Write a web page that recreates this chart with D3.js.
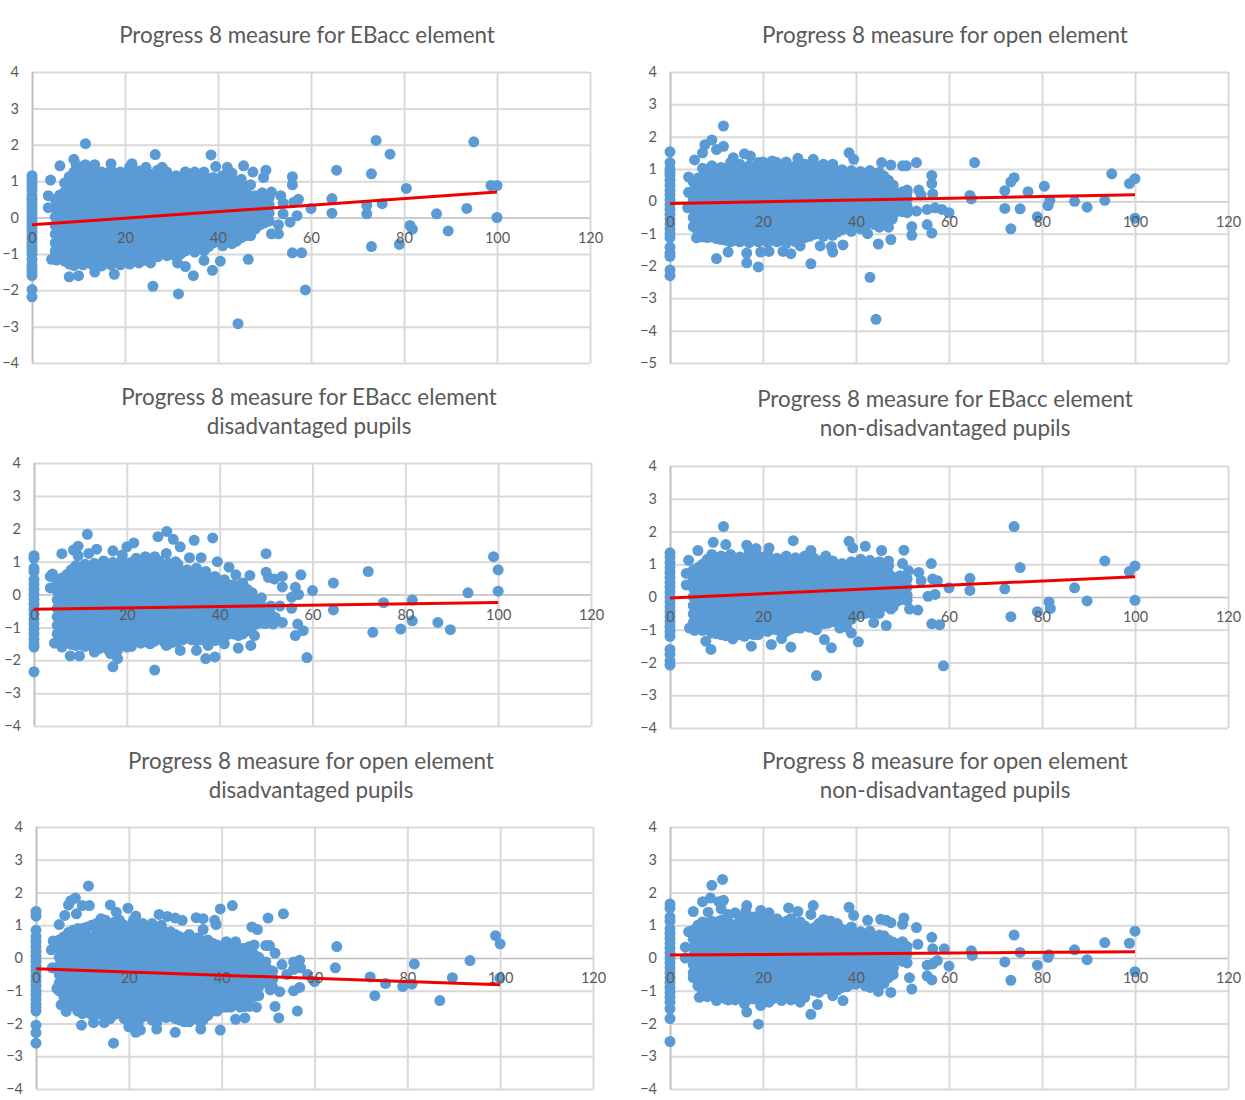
<!DOCTYPE html>
<html><head><meta charset="utf-8">
<script src="https://cdnjs.cloudflare.com/ajax/libs/d3/7.8.5/d3.min.js"></script>
<style>html,body{margin:0;background:#fff}svg{display:block}text{font-family:Lato,"Open Sans",sans-serif;fill:#595959}</style>
</head><body><div id="c"></div>
<script>
const titles = [
 ["Progress 8 measure for EBacc element"],
 ["Progress 8 measure for open element"],
 ["Progress 8 measure for EBacc element","disadvantaged pupils"],
 ["Progress 8 measure for EBacc element","non-disadvantaged pupils"],
 ["Progress 8 measure for open element","disadvantaged pupils"],
 ["Progress 8 measure for open element","non-disadvantaged pupils"]
];
const xTicks = [0,20,40,60,80,100,120];
const yTicks4 = [-4,-3,-2,-1,0,1,2,3,4];
const yTicks5 = [-5,-4,-3,-2,-1,0,1,2,3,4];
const trendX = [0,100];
const trendA = [-0.2,0.7], trendB = [-0.07,0.2], trendC = [-0.45,-0.24], trendD = [-0.03,0.62], trendE = [-0.33,-0.82], trendF = [0.09,0.19];

const zeroA = [1.15,1.05,.95,.85,.75,.6,.5,.4,.3,.2,.1,0,-.1,-.2,-.3,-.4,-.5,-.6,-.7,-.8,-.9,-1,-1.15,-1.3,-1.4,-1.5,-1.6,-1.98,-2.18];
const zeroB = [1.53,1.2,1,.9,.8,.65,.5,.35,.2,.05,-.1,-.25,-.4,-.55,-.7,-.85,-1,-1.12,-1.42,-1.6,-1.7,-2.12,-2.3];
const zeroC = [1.18,1.1,.8,.7,.45,.3,.15,0,-.15,-.3,-.45,-.6,-.75,-.9,-1.05,-1.2,-1.35,-1.5,-1.6,-2.35];
const zeroD = [1.35,1.22,1.05,.9,.75,.6,.45,.3,.15,0,-.15,-.3,-.45,-.6,-.75,-.9,-1.05,-1.2,-1.6,-1.75,-1.95,-2.08];
const zeroE = [1.42,1.28,.85,.65,.5,.35,.2,.05,-.1,-.25,-.4,-.55,-.7,-.85,-1,-1.12,-1.25,-1.4,-1.52,-1.62,-2.05,-2.28,-2.6];
const zeroF = [1.65,1.52,1.25,1.12,.9,.75,.6,.45,.3,.15,0,-.15,-.3,-.45,-.6,-.75,-.9,-1.05,-1.2,-1.35,-1.55,-1.85,-2.55];

// dense body of each cloud, read column by column (odd-x columns)
const cloudX = [5,7,9,11,13,15,17,19,21,23,25,27,29,31,33,35,37,39,41,43,45,47,49,51];
const cloudA = [
[.5,.25,.02,-.22,-.46,-.7,-.92],
[.95,.7,.46,.22,-.03,-.27,-.5,-.75,-1,-1.2],
[1.25,1,.78,.53,.3,.05,-.18,-.43,-.68,-.92,-1.15,-1.32],
[1.28,1.05,.82,.58,.33,.09,-.15,-.4,-.63,-.88,-1.1,-1.3],
[1.3,1.03,.8,.55,.32,.08,-.17,-.42,-.66,-.9,-1.14,-1.3],
[1.25,1.02,.78,.54,.3,.06,-.18,-.42,-.66,-.9,-1.15,-1.33],
[1.3,1.06,.82,.58,.34,.1,-.14,-.38,-.62,-.86,-1.1,-1.3],
[1.25,1.03,.79,.55,.31,.07,-.17,-.41,-.65,-.89,-1.13,-1.3],
[1.38,1.1,.85,.6,.36,.12,-.12,-.36,-.6,-.84,-1.08,-1.28],
[1.28,1.04,.8,.56,.32,.08,-.16,-.4,-.64,-.88,-1.12,-1.25],
[1.22,1,.76,.52,.28,.04,-.2,-.44,-.68,-.92,-1.1],
[1.3,1.06,.82,.58,.34,.1,-.14,-.38,-.62,-.86,-1.08],
[1.25,1.02,.78,.54,.3,.06,-.18,-.42,-.66,-.9,-1.05],
[1.15,.95,.72,.48,.24,0,-.24,-.48,-.72,-.96,-1.08],
[1.25,1,.76,.52,.28,.04,-.2,-.44,-.68,-.92],
[1.22,.98,.74,.5,.26,.02,-.22,-.46,-.7,-.95],
[1.15,.94,.7,.46,.22,-.02,-.26,-.5,-.74,-.92],
[1.1,.88,.66,.42,.18,-.06,-.3,-.52,-.7],
[1.15,.9,.66,.42,.18,-.04,-.28,-.52,-.78],
[1.22,.95,.72,.48,.24,0,-.24,-.46,-.72],
[1.05,.85,.62,.38,.15,-.08,-.32,-.55],
[.9,.6,.35,.12,-.1,-.3,-.5],
[.45,.22,0,-.2],
[.55,.35,.12,-.1]
];
const cloudB = [
[.6,.32,.04,-.24,-.5,-.78],
[1.02,.74,.46,.18,-.1,-.38,-.66,-.92,-1.1],
[1.1,.85,.57,.29,.01,-.27,-.55,-.83,-1.1],
[1.05,.78,.5,.22,-.06,-.34,-.62,-.9,-1.18],
[1.08,.84,.56,.28,0,-.28,-.56,-.84,-1.12,-1.25],
[1.15,.88,.6,.32,.04,-.24,-.52,-.8,-1.08,-1.25],
[1.1,.86,.58,.3,.02,-.26,-.54,-.82,-1.1,-1.28],
[1.2,.9,.62,.34,.06,-.22,-.5,-.78,-1.06,-1.25],
[1.15,.86,.58,.3,.02,-.26,-.54,-.82,-1.1,-1.28],
[1.2,.92,.64,.36,.08,-.2,-.48,-.76,-1.04,-1.25],
[1.15,.86,.58,.3,.02,-.26,-.54,-.82,-1.1,-1.3],
[1.1,.9,.62,.34,.06,-.22,-.5,-.78,-1.06,-1.25],
[1.02,.76,.5,.22,-.06,-.34,-.62,-.9,-1.12],
[1.15,.9,.62,.34,.06,-.22,-.5,-.78,-1.02],
[1.02,.76,.48,.2,-.08,-.36,-.64,-.92,-1.08],
[1.05,.82,.54,.26,-.02,-.3,-.58,-.86,-1.05],
[.98,.72,.44,.16,-.12,-.4,-.68,-.88],
[.95,.7,.42,.14,-.14,-.42,-.7],
[.92,.66,.38,.1,-.18,-.46,-.72],
[.95,.7,.42,.14,-.14,-.42,-.66],
[.9,.62,.34,.06,-.22,-.5,-.72],
[.65,.38,.1,-.12,-.35],
[.25,.05,-.12,-.3],
[.28,.08,-.15,-.3]
];
const cloudC = [
[.38,.1,-.16,-.42,-.68,-.94,-1.2],
[.6,.33,.07,-.19,-.45,-.71,-.97,-1.23,-1.45],
[.88,.6,.34,.08,-.18,-.44,-.7,-.96,-1.22,-1.48,-1.55],
[.92,.66,.4,.14,-.12,-.38,-.64,-.9,-1.16,-1.42,-1.58],
[.95,.68,.42,.16,-.1,-.36,-.62,-.88,-1.14,-1.4,-1.62],
[1.02,.76,.5,.24,-.02,-.28,-.54,-.8,-1.06,-1.32,-1.58],
[.98,.7,.44,.18,-.08,-.34,-.6,-.86,-1.12,-1.38,-1.64],
[1.05,.8,.54,.28,.02,-.24,-.5,-.76,-1.02,-1.28,-1.55],
[.98,.72,.46,.2,-.06,-.32,-.58,-.84,-1.1,-1.36,-1.58],
[1.05,.78,.52,.26,0,-.26,-.52,-.78,-1.04,-1.3,-1.48],
[.98,.72,.46,.2,-.06,-.32,-.58,-.84,-1.1,-1.36,-1.5],
[1.02,.76,.5,.24,-.02,-.28,-.54,-.8,-1.06,-1.32],
[.95,.7,.44,.18,-.08,-.34,-.6,-.86,-1.12,-1.38,-1.5],
[.92,.65,.4,.14,-.12,-.38,-.64,-.9,-1.16,-1.42],
[.75,.5,.24,-.02,-.28,-.54,-.8,-1.06,-1.32],
[.8,.55,.3,.04,-.22,-.48,-.74,-1,-1.26,-1.4],
[.7,.45,.18,-.08,-.34,-.6,-.86,-1.12,-1.35],
[.55,.3,.06,-.2,-.46,-.72,-.98,-1.24,-1.4],
[.45,.2,-.06,-.32,-.58,-.84,-1.1,-1.3],
[.3,.04,-.22,-.48,-.74,-1,-1.2],
[.35,.08,-.18,-.44,-.7,-.96,-1.2],
[.05,-.2,-.46,-.72,-.98],
[-.1,-.35,-.62],
[-.35,-.6,-.85]
];
const cloudD = [
[.82,.55,.28,.01,-.26,-.52,-.78],
[1,.72,.46,.19,-.08,-.35,-.62,-.88,-1.02],
[1.3,1.05,.78,.51,.24,-.03,-.3,-.57,-.84,-1.1],
[1.25,1,.72,.45,.18,-.09,-.36,-.63,-.9,-1.15],
[1.3,1.05,.78,.51,.24,-.03,-.3,-.57,-.84,-1.12],
[1.22,.98,.72,.45,.18,-.09,-.36,-.63,-.9,-1.15],
[1.35,1.05,.78,.51,.24,-.03,-.3,-.57,-.84,-1.12],
[1.25,.98,.72,.45,.18,-.09,-.36,-.63,-.9,-1.15],
[1.3,1.03,.76,.49,.22,-.05,-.32,-.59,-.86,-1.05],
[1.18,.94,.68,.41,.14,-.13,-.4,-.67,-.94,-1],
[1.25,1.02,.75,.48,.21,-.06,-.33,-.6,-.87,-1.05],
[1.2,.94,.68,.41,.14,-.13,-.4,-.67,-.94],
[1.25,1,.74,.47,.2,-.07,-.34,-.61,-.88],
[1.18,.92,.66,.39,.12,-.15,-.42,-.69,-.95],
[1.15,.95,.7,.43,.16,-.11,-.38,-.65,-.82],
[1.1,.86,.6,.33,.06,-.21,-.48,-.75],
[1.02,.8,.54,.27,0,-.27,-.54,-.72],
[1.08,.82,.56,.29,.02,-.25,-.52,-.68],
[1.15,.9,.63,.36,.09,-.18,-.42,-.52],
[1.12,.85,.58,.31,.04,-.23,-.48],
[1.08,.82,.55,.28,.01,-.26,-.5],
[.95,.72,.45,.18,-.09,-.3],
[.5,.25,0,-.12],
[.55,.3,.05,-.1]
];
const cloudE = [
[.55,.28,.02,-.24,-.5,-.76,-1],
[.78,.5,.24,-.02,-.28,-.54,-.8,-1.06,-1.35],
[.9,.62,.36,.1,-.16,-.42,-.68,-.94,-1.2,-1.46,-1.62],
[.95,.68,.42,.16,-.1,-.36,-.62,-.88,-1.14,-1.4,-1.66],
[1.05,.76,.5,.24,-.02,-.28,-.54,-.8,-1.06,-1.32,-1.58,-1.72],
[1.08,.82,.56,.3,.04,-.22,-.48,-.74,-1,-1.26,-1.52,-1.78],
[1.1,.82,.56,.3,.04,-.22,-.48,-.74,-1,-1.26,-1.52,-1.72],
[1,.75,.49,.23,-.03,-.29,-.55,-.81,-1.07,-1.33,-1.59,-1.85],
[.95,.72,.46,.2,-.06,-.32,-.58,-.84,-1.1,-1.36,-1.62,-1.9],
[1.05,.78,.52,.26,0,-.26,-.52,-.78,-1.04,-1.3,-1.56,-1.8],
[.98,.7,.44,.18,-.08,-.34,-.6,-.86,-1.12,-1.38,-1.64,-1.9],
[.9,.62,.36,.1,-.16,-.42,-.68,-.94,-1.2,-1.46,-1.72],
[.8,.55,.29,.03,-.23,-.49,-.75,-1.01,-1.27,-1.53,-1.78],
[.65,.4,.14,-.12,-.38,-.64,-.9,-1.16,-1.42,-1.68,-1.9],
[.72,.46,.2,-.06,-.32,-.58,-.84,-1.1,-1.36,-1.62,-1.82],
[.62,.36,.1,-.16,-.42,-.68,-.94,-1.2,-1.46,-1.72,-1.9],
[.55,.3,.04,-.22,-.48,-.74,-1,-1.26,-1.52,-1.72],
[.4,.14,-.12,-.38,-.64,-.9,-1.16,-1.42,-1.62],
[.5,.22,-.04,-.3,-.56,-.82,-1.08,-1.34,-1.5],
[.35,.1,-.16,-.42,-.68,-.94,-1.2,-1.42],
[.3,.05,-.2,-.46,-.72,-.98,-1.24,-1.48],
[.4,.1,-.16,-.42,-.68,-.94,-1.18],
[-.3,-.52,-.76],
[-.4,-.65,-.9]
];
const cloudF = [
[.85,.58,.32,.06,-.2,-.45,-.6],
[1.1,.82,.56,.3,.04,-.22,-.48,-.74,-1,-1.15],
[1.12,.9,.64,.38,.12,-.14,-.4,-.66,-.92,-1.15],
[1.15,.85,.6,.34,.08,-.18,-.44,-.7,-.96,-1.2],
[1.05,.8,.54,.28,.02,-.24,-.5,-.76,-1.02,-1.25],
[1.12,.88,.62,.36,.1,-.16,-.42,-.68,-.94,-1.2],
[1.15,.85,.6,.34,.08,-.18,-.44,-.7,-.96,-1.25],
[1.1,.88,.62,.36,.1,-.16,-.42,-.68,-.94,-1.15],
[1.12,.85,.58,.32,.06,-.2,-.46,-.72,-.98,-1.15],
[1.02,.8,.54,.28,.02,-.24,-.5,-.76,-1.02,-1.2],
[1.12,.85,.6,.34,.08,-.18,-.44,-.7,-.96,-1.18],
[1.05,.82,.56,.3,.04,-.22,-.48,-.74,-1,-1.15],
[.98,.75,.5,.24,-.02,-.28,-.54,-.8,-1.06,-1.2],
[.92,.7,.44,.18,-.08,-.34,-.6,-.86,-1.0],
[1,.76,.5,.24,-.02,-.28,-.54,-.8,-.95],
[.95,.7,.44,.18,-.08,-.34,-.6,-.86],
[.88,.64,.38,.12,-.14,-.4,-.66,-.9],
[.95,.72,.46,.2,-.06,-.32,-.58,-.8],
[.8,.56,.3,.04,-.22,-.48,-.74],
[.82,.58,.32,.06,-.2,-.46,-.72],
[.7,.46,.2,-.06,-.32,-.6,-.8],
[.55,.3,.04,-.22,-.48,-.6],
[.42,.18,-.05],
[.35,.12,-.15]
];

// even-x columns of the same clouds
const cloudX2 = [6,8,10,12,14,16,18,20,22,24,26,28,30,32,34,36,38,40,42,44,46,48,50];
const cloudA2 = [
[.62,.35,.1,-.12,-.36,-.6,-.85,-1.05],
[1.12,.85,.58,.34,.1,-.14,-.38,-.62,-.86,-1.1,-1.28],
[1.15,.9,.66,.42,.18,-.06,-.3,-.55,-.8,-1.04,-1.25],
[1.15,.92,.7,.46,.2,-.04,-.28,-.52,-.76,-1,-1.22],
[1.15,.92,.68,.44,.2,-.04,-.3,-.54,-.78,-1.02,-1.25],
[1.14,.9,.66,.42,.18,-.06,-.3,-.54,-.78,-1.02,-1.22],
[1.15,.94,.7,.46,.22,-.02,-.26,-.5,-.74,-.98,-1.22],
[1.22,.98,.73,.48,.24,0,-.24,-.48,-.72,-.96,-1.2],
[1.16,.92,.68,.44,.2,-.04,-.28,-.52,-.76,-1,-1.2],
[1.12,.9,.66,.42,.18,-.06,-.3,-.54,-.78,-1,-1.18],
[1.15,.94,.7,.46,.22,-.02,-.26,-.5,-.74,-.98],
[1.14,.9,.66,.42,.18,-.06,-.3,-.54,-.78,-.98],
[1.05,.85,.6,.36,.12,-.12,-.36,-.6,-.84,-1],
[1.1,.88,.64,.4,.16,-.1,-.34,-.58,-.82,-1],
[1.1,.86,.62,.38,.14,-.1,-.34,-.58,-.82],
[1.05,.84,.6,.34,.1,-.14,-.38,-.62,-.84],
[1,.78,.54,.3,.06,-.18,-.42,-.62,-.8],
[1,.78,.54,.3,.08,-.16,-.4,-.65],
[1.05,.82,.6,.36,.12,-.12,-.36,-.6],
[1,.75,.5,.26,.03,-.2,-.44,-.65],
[.85,.6,.36,.14,-.08,-.3,-.5],
[.6,.35,.12,-.1,-.32],
[.45,.22,0,-.15]
];
const cloudB2 = [
[.72,.44,.16,-.12,-.4,-.68,-.95],
[.98,.7,.42,.14,-.14,-.42,-.7,-.98,-1.12],
[1,.72,.44,.16,-.12,-.4,-.68,-.96,-1.15],
[.95,.68,.4,.12,-.16,-.44,-.72,-1,-1.2],
[1,.72,.44,.16,-.12,-.4,-.68,-.96,-1.2],
[1,.74,.46,.18,-.1,-.38,-.66,-.94,-1.18],
[1.05,.75,.47,.19,-.09,-.37,-.65,-.93,-1.18],
[1.05,.76,.48,.2,-.08,-.36,-.64,-.92,-1.18],
[1.05,.78,.5,.22,-.06,-.34,-.62,-.9,-1.15],
[1.08,.72,.44,.16,-.12,-.4,-.68,-.96,-1.18],
[1,.76,.48,.2,-.08,-.36,-.64,-.92,-1.16],
[.92,.64,.36,.08,-.2,-.48,-.76,-1.04],
[1,.76,.48,.2,-.08,-.36,-.64,-.9,-1.08],
[.92,.64,.36,.08,-.2,-.48,-.76,-1],
[.95,.68,.4,.12,-.16,-.44,-.72,-.96],
[.88,.6,.32,.04,-.24,-.52,-.78,-.95],
[.85,.56,.28,0,-.28,-.56,-.8],
[.8,.52,.24,-.04,-.32,-.6],
[.85,.56,.28,0,-.28,-.56,-.75],
[.8,.52,.24,-.04,-.32,-.6,-.72],
[.78,.5,.22,-.06,-.32,-.55],
[.5,.25,.02,-.22,-.4],
[.25,.05,-.18,-.32]
];
const cloudC2 = [
[.5,.24,-.02,-.28,-.54,-.8,-1.06,-1.3],
[.75,.48,.22,-.04,-.3,-.56,-.82,-1.08,-1.34,-1.52],
[.8,.54,.28,.02,-.24,-.5,-.76,-1.02,-1.28,-1.52],
[.8,.54,.28,.02,-.24,-.5,-.76,-1.02,-1.28,-1.54],
[.85,.58,.32,.06,-.2,-.46,-.72,-.98,-1.24,-1.5,-1.65],
[.9,.62,.36,.1,-.16,-.42,-.68,-.94,-1.2,-1.46,-1.68],
[.92,.66,.4,.14,-.12,-.38,-.64,-.9,-1.16,-1.42,-1.7],
[.92,.66,.4,.14,-.12,-.38,-.64,-.9,-1.16,-1.42,-1.6],
[.92,.66,.4,.14,-.12,-.38,-.64,-.9,-1.16,-1.42],
[.9,.64,.38,.12,-.14,-.4,-.66,-.92,-1.18,-1.44],
[.9,.64,.38,.12,-.14,-.4,-.66,-.92,-1.18,-1.42],
[.88,.62,.36,.1,-.16,-.42,-.68,-.94,-1.2,-1.44],
[.82,.56,.3,.04,-.22,-.48,-.74,-1,-1.26,-1.45],
[.7,.44,.18,-.08,-.34,-.6,-.86,-1.12,-1.38],
[.66,.4,.14,-.12,-.38,-.64,-.9,-1.16,-1.38],
[.62,.36,.1,-.16,-.42,-.68,-.94,-1.2,-1.38],
[.5,.24,-.02,-.28,-.54,-.8,-1.06,-1.32],
[.42,.16,-.1,-.36,-.62,-.88,-1.14,-1.35],
[.3,.06,-.2,-.46,-.72,-.98,-1.2],
[.25,-.02,-.28,-.54,-.8,-1.06,-1.25],
[.15,-.1,-.36,-.62,-.88,-1.1],
[-.2,-.46,-.72,-.9],
[-.45,-.7,-.88]
];
const cloudD2 = [
[.9,.62,.35,.08,-.19,-.46,-.72,-.95],
[1.15,.9,.62,.35,.08,-.19,-.46,-.73,-1],
[1.18,.92,.65,.38,.11,-.16,-.43,-.7,-.97,-1.12],
[1.15,.88,.61,.34,.07,-.2,-.47,-.74,-1.01,-1.18],
[1.18,.92,.65,.38,.11,-.16,-.43,-.7,-.97,-1.15],
[1.12,.86,.59,.32,.05,-.22,-.49,-.76,-1.03,-1.2],
[1.18,.92,.65,.38,.11,-.16,-.43,-.7,-.97,-1.15],
[1.12,.86,.6,.33,.06,-.21,-.48,-.75,-1.02],
[1.1,.82,.55,.28,.01,-.26,-.53,-.8,-.98],
[1.12,.88,.6,.33,.06,-.21,-.48,-.75,-.98],
[1.1,.82,.56,.29,.02,-.25,-.52,-.79,-.98],
[1.12,.86,.6,.33,.06,-.21,-.48,-.75,-.95],
[1.05,.8,.53,.26,0,-.27,-.54,-.8,-.92],
[1.05,.8,.55,.28,.02,-.25,-.52,-.78],
[1.02,.75,.48,.22,-.05,-.32,-.59,-.8],
[.95,.68,.42,.15,-.12,-.38,-.65,-.78],
[.95,.7,.44,.17,-.1,-.36,-.62],
[1,.72,.46,.2,-.07,-.32,-.55],
[1,.72,.46,.19,-.08,-.35,-.5],
[.95,.68,.42,.15,-.12,-.38,-.5],
[1,.8,.52,.25,-.02,-.28],
[.6,.35,.1,-.15,-.3],
[.45,.2,-.05]
];
const cloudE2 = [
[.65,.4,.14,-.12,-.38,-.64,-.9,-1.18],
[.85,.62,.36,.1,-.16,-.42,-.68,-.94,-1.2,-1.46],
[.9,.52,.26,0,-.26,-.52,-.78,-1.04,-1.3,-1.56,-1.7],
[1,.56,.3,.04,-.22,-.48,-.74,-1,-1.26,-1.52,-1.74],
[.92,.64,.38,.12,-.14,-.4,-.66,-.92,-1.18,-1.44,-1.7],
[.96,.68,.42,.16,-.1,-.36,-.62,-.88,-1.14,-1.4,-1.66,-1.85],
[.96,.68,.42,.16,-.1,-.36,-.62,-.88,-1.14,-1.4,-1.66],
[.88,.62,.36,.1,-.16,-.42,-.68,-.94,-1.2,-1.46,-1.72,-1.95],
[.85,.58,.32,.06,-.2,-.46,-.72,-.98,-1.24,-1.5,-1.76,-2],
[.9,.64,.38,.12,-.14,-.4,-.66,-.92,-1.18,-1.44,-1.7],
[.85,.58,.32,.06,-.2,-.46,-.72,-.98,-1.24,-1.5,-1.76,-1.98],
[.78,.48,.22,-.04,-.3,-.56,-.82,-1.08,-1.34,-1.6,-1.82],
[.72,.42,.16,-.1,-.36,-.62,-.88,-1.14,-1.4,-1.66,-1.85],
[.6,.28,.02,-.24,-.5,-.76,-1.02,-1.28,-1.54,-1.8,-1.95],
[.6,.32,.06,-.2,-.46,-.72,-.98,-1.24,-1.5,-1.76],
[.5,.22,-.04,-.3,-.56,-.82,-1.08,-1.34,-1.6,-1.9],
[.45,.18,-.08,-.34,-.6,-.86,-1.12,-1.38,-1.62],
[.3,.05,-.21,-.47,-.73,-.99,-1.25,-1.51],
[.25,0,-.26,-.52,-.78,-1.04,-1.3,-1.5],
[.3,.02,-.24,-.5,-.76,-1.02,-1.28,-1.5],
[.35,.1,-.16,-.42,-.68,-.94,-1.2,-1.48],
[-.1,-.36,-.62,-.88,-1.15],
[-.35,-.6,-.78]
];
const cloudF2 = [
[1,.72,.46,.2,-.06,-.32,-.58,-.85],
[1.05,.78,.52,.26,0,-.26,-.52,-.78,-1.04,-1.18],
[1.1,.78,.52,.26,0,-.26,-.52,-.78,-1.04,-1.22],
[1,.72,.46,.2,-.06,-.32,-.58,-.84,-1.1,-1.25],
[.95,.7,.44,.18,-.08,-.34,-.6,-.86,-1.12,-1.28],
[1.02,.76,.5,.24,-.02,-.28,-.54,-.8,-1.06,-1.3],
[1,.72,.46,.2,-.06,-.32,-.58,-.84,-1.1,-1.25],
[1,.76,.5,.24,-.02,-.28,-.54,-.8,-1.06,-1.22],
[.95,.7,.44,.18,-.08,-.34,-.6,-.86,-1.12,-1.25],
[.98,.72,.46,.2,-.06,-.32,-.58,-.84,-1.1,-1.25],
[.95,.72,.46,.2,-.06,-.32,-.58,-.84,-1.1,-1.28],
[.9,.62,.36,.1,-.16,-.42,-.68,-.94,-1.15],
[.85,.6,.34,.08,-.18,-.44,-.7,-.96],
[.88,.64,.38,.12,-.14,-.4,-.66,-.9,-1.05],
[.85,.6,.34,.08,-.18,-.44,-.7,-.95],
[.8,.52,.26,0,-.26,-.52,-.78,-.98],
[.85,.6,.34,.08,-.18,-.44,-.7,-.88],
[.72,.44,.18,-.08,-.34,-.6,-.8],
[.72,.46,.2,-.06,-.32,-.58,-.85],
[.6,.34,.08,-.18,-.44,-.7,-.85],
[.68,.42,.16,-.1,-.36,-.62,-.78],
[.48,.22,-.04,-.3,-.5],
[.35,.1,-.1]
];

// individually legible points away from the cloud
const pointsA = [[11.5,2.03],[74,2.12],[95,2.08],[77,1.74],[26.5,1.73],[38.5,1.72],[9,1.6],[6,1.42],[39.5,1.4],[45.5,1.42],[42,1.38],[50.3,1.3],[47.5,1.25],[65.5,1.3],[73,1.2],[56,1.12],[49.8,1.1],[56,.9],[4,1.03],[3.5,.6],[3.5,.27],[80.5,.8],[98.7,.88],[100,.88],[57.3,.5],[56.3,.42],[64.5,.52],[72,.33],[75.3,.38],[60,.25],[64.5,.12],[72,.1],[87,.1],[93.5,.25],[100,0],[81.3,-.22],[81.8,-.32],[89.5,-.37],[73,-.8],[79,-.74],[56,-.97],[58,-.97],[58.8,-1.99],[44.3,-2.92],[31.5,-2.1],[26,-1.89],[46.5,-1.15],[38.8,-1.45],[34.7,-1.6],[40.5,-1.2],[13.5,-1.5],[10,-1.6],[8,-1.63],[17.7,-1.56],[4.2,-1.15],[5.3,-1.17],[33,-1.35],[31.3,-1.25],[25.5,-1.25],[37,-1.18],[57,.05],[55.5,-.13],[53,-.45],[51.5,-.45],[53,-.2],[53.5,.6],[51.5,.7],[49.5,.68],[54,.4],[54,.1],[9.5,1.45],[11.5,1.45],[13.5,1.45],[17,1.48],[21.5,1.48],[24.5,1.38],[28,1.38],[33,1.25],[35,1.25],[37,1.25]];
const pointsB = [[11.5,2.33],[9,1.9],[7.5,1.75],[11.5,1.7],[10,1.6],[7,1.5],[16,1.47],[17.3,1.4],[13.6,1.35],[38.5,1.5],[39.5,1.3],[27.5,1.33],[30.8,1.3],[5.3,1.28],[45.5,1.2],[53,1.2],[50,1.1],[50.8,1.1],[47.5,1.12],[65.5,1.2],[56.3,.8],[56.3,.55],[95,.85],[100,.7],[98.8,.55],[74,.73],[73.3,.6],[80.5,.47],[72,.33],[77,.3],[64.5,.18],[64.8,.08],[56.5,.23],[87,0],[81.7,.03],[81.3,-.13],[93.5,.03],[89.7,-.18],[72,-.22],[75.3,-.23],[79,-.48],[100,-.52],[73.3,-.85],[60,-.35],[58.5,-.25],[57,-.2],[55.3,-.25],[55.3,-.72],[56.3,-.98],[52,-.78],[52,-1.05],[47.5,-1.18],[47.8,-.55],[47,-.8],[45,-.8],[44.8,-1.32],[43,-2.35],[44.3,-3.65],[30.3,-1.93],[19,-2.03],[16.5,-1.9],[10,-1.77],[12.5,-1.57],[16.5,-1.6],[19.5,-1.57],[21.3,-1.55],[24.3,-1.55],[26,-1.62],[35,-1.57],[34.7,-1.4],[37.2,-1.35],[32.3,-1.38],[28,-1.38],[5.7,-1.13],[4,.28],[3.8,-.2],[4,.75],[39,-.93],[41,-.85],[42.5,-1],[50,.3],[51,.35],[53.5,.35],[54,.2],[51,-.35],[53,-.3],[13,1.2],[20,1.22],[22,1.25],[25,1.22],[29,1.15],[33,1.15],[35,1.15]];
const pointsC = [[11.5,1.83],[28.6,1.92],[26.7,1.76],[30,1.68],[34.5,1.65],[38.5,1.72],[31.5,1.45],[21.5,1.57],[20,1.45],[17,1.33],[9.5,1.47],[8.5,1.35],[11.8,1.25],[13.5,1.38],[6,1.24],[9.5,1.18],[28.5,1.25],[33.5,1.12],[36,1.12],[30.5,1],[39.5,1],[42,.83],[50,1.24],[99,1.15],[100,.75],[72,.7],[43.5,.6],[46.5,.58],[50,.68],[50.5,.52],[51.8,.47],[53.5,.55],[53.5,.23],[57.5,.6],[56.3,.22],[64.5,.35],[60,.12],[100,.1],[93.5,.05],[57,0],[55.5,-.08],[81.5,-.17],[75.3,-.25],[55.5,-.42],[64.5,-.47],[3.5,.55],[4,.62],[3.5,.2],[81.5,-.8],[87,-.85],[89.7,-1.07],[79,-1.05],[73,-1.15],[56.8,-.9],[58,-1.1],[56.3,-1.25],[58.8,-1.92],[46.7,-1.55],[47.5,-1.25],[44,-1.63],[41,-1.5],[37,-1.95],[39,-1.9],[37.5,-1.55],[35,-1.7],[31.5,-1.7],[28.5,-1.55],[26,-2.3],[17,-2.2],[18,-1.95],[9.8,-1.87],[7.8,-1.87],[13,-1.75],[16.5,-1.8],[4.4,-1.48],[6,-1.6],[52,-.7],[53.5,-.85],[51.5,-.9],[49.5,-.88],[53,-.35],[50.3,-.5],[19,1.2],[24,1.15],[26,1.15],[22,1.1]];
const pointsD = [[11.5,2.15],[74,2.15],[9.3,1.67],[12,1.6],[16.5,1.58],[18.5,1.48],[21.3,1.5],[26.5,1.72],[38.5,1.7],[39.3,1.5],[42,1.55],[45.5,1.42],[50.3,1.43],[6,1.42],[4,1.12],[30.3,1.42],[33.5,1.25],[50,1.02],[47,1.1],[56.2,1.02],[75.3,.9],[93.5,1.1],[100,.95],[98.8,.78],[3.5,.72],[3.5,.37],[53.5,.75],[51.3,.8],[54,.5],[49.5,.65],[56.5,.55],[57.5,.5],[64.5,.57],[60,.28],[64.5,.2],[72,.25],[87,.28],[57,.08],[55.5,.02],[100,-.1],[89.7,-.12],[81.5,-.15],[81.8,-.35],[79,-.45],[73.3,-.6],[56.3,-.82],[58,-.85],[58.8,-2.1],[31.5,-2.4],[34.7,-1.55],[40.5,-1.37],[33.2,-1.3],[26,-1.53],[21.8,-1.45],[17.5,-1.5],[8.8,-1.6],[7.7,-1.35],[4.2,-.95],[5.3,-1.02],[13.5,-1.28],[24,-1.27],[39,-1.1],[38,-.92],[36.5,-.95],[43.8,-.78],[46.5,-.87],[51.5,-.37],[53.3,-.4],[47.5,-.37],[50,-.07],[31.5,-1]];
const pointsE = [[11.3,2.2],[8.5,1.83],[7.5,1.75],[7,1.62],[10,1.6],[11.5,1.6],[16,1.62],[17.3,1.4],[19.8,1.52],[8.7,1.35],[6.2,1.3],[5,1.02],[21.5,1.28],[26.5,1.33],[28.3,1.27],[30,1.22],[31.5,1.15],[34.5,1.23],[36,1.2],[38.5,1.15],[38.8,1.02],[39.7,1.5],[42.3,1.6],[46.5,.95],[47.7,.87],[36,.87],[50,1.22],[53.3,1.35],[50.3,.38],[49.5,.38],[51.5,.15],[99,.68],[100,.43],[64.8,.35],[43,.5],[41.8,0],[48,.02],[3.3,.25],[3.7,.52],[3.5,-.3],[93.5,-.08],[56.8,-.07],[55.5,-.12],[81.5,-.18],[49.5,-.12],[64.5,-.3],[55.5,-.35],[57,-.3],[58.5,-.5],[60,-.72],[72,-.58],[89.7,-.6],[99.9,-.62],[81,-.8],[79,-.87],[75.3,-.78],[73,-1.15],[87,-1.3],[56.8,-.9],[55.5,-1],[52.5,-1.03],[50.5,-.97],[51.5,-1.48],[52.3,-1.83],[56.3,-1.62],[47.5,-1.5],[45,-1.83],[43,-1.87],[39.7,-2.2],[35.5,-2.17],[30,-2.27],[26,-2.17],[16.7,-2.6],[9.8,-2.05],[12.4,-1.97],[14.7,-1.97],[20,-2.1],[21.5,-2.27],[22.5,-2.2],[4.5,-.93],[5.4,-1.43],[6.5,-1.63],[33,-1.95],[37,-1.75],[53,-.2],[54,-.5],[51,-.62],[14,1.2],[15,1.15],[18,1.15],[21,1.15],[25,1.05],[27,1]];
const pointsF = [[11.3,2.4],[9,2.22],[11.5,1.76],[8.7,1.83],[7,1.72],[10.5,1.72],[8.2,1.4],[11,1.5],[5,1.42],[12.5,1.33],[14,1.38],[16.5,1.6],[16.3,1.42],[19.5,1.45],[21.3,1.38],[25.5,1.53],[27.5,1.42],[30.8,1.6],[30.3,1.33],[38.5,1.55],[39.5,1.3],[42.5,1.15],[45.3,1.18],[46.5,1.15],[47.5,1.08],[50.3,1.22],[50,1.03],[53,.93],[33,1.17],[34.5,1.13],[4,.8],[3.3,.33],[56.3,.63],[56.5,.28],[59,.28],[53.3,.42],[50,.5],[74,.7],[100,.82],[93.5,.47],[98.8,.45],[87,.25],[75.3,.17],[64.8,.22],[65,.08],[81.5,.1],[81.3,.02],[89.7,-.05],[100,-.42],[72,-.12],[79,-.22],[60,-.25],[57.5,-.08],[56.5,-.18],[55.3,-.22],[73.3,-.68],[55.3,-.55],[56.3,-.67],[51.5,-.6],[52,-.95],[47.5,-1.05],[44.8,-1.02],[43,-.9],[37.2,-1.3],[35,-1.15],[31.7,-1.42],[30.3,-1.72],[28,-1.35],[24,-1.3],[21.3,-1.35],[19.5,-1.45],[19,-2.02],[16.5,-1.65],[16,-1.4],[12.5,-1.28],[10,-1.3],[6.3,-1.2],[5.3,-.6],[3.3,0],[48,-.3],[15,1.25],[18,1.25],[20,1.2],[23,1.2],[26,1.2],[28,1.1],[32,1.05],[36,1.05]];

const zeros = [zeroA,zeroB,zeroC,zeroD,zeroE,zeroF];
const clouds = [cloudA,cloudB,cloudC,cloudD,cloudE,cloudF];
const clouds2 = [cloudA2,cloudB2,cloudC2,cloudD2,cloudE2,cloudF2];
const points = [pointsA,pointsB,pointsC,pointsD,pointsE,pointsF];
const trends = [trendA,trendB,trendC,trendD,trendE,trendF];

const frames = [
 {l:32,r:590,t:72,b:363,min:-4,tc:307,ty:[35.5]},
 {l:670,r:1228,t:72,b:363,min:-5,tc:945,ty:[35.5]},
 {l:34,r:591,t:463,b:726,min:-4,tc:309,ty:[397.5,426.5]},
 {l:670,r:1228,t:466,b:728,min:-4,tc:945,ty:[399.5,428.5]},
 {l:36,r:593,t:827,b:1089,min:-4,tc:311,ty:[761.5,790.5]},
 {l:670,r:1228,t:827,b:1089,min:-4,tc:945,ty:[761.5,790.5]}
];
const BLUE="#5b9bd5", GRID="#d9d9d9";
const svg = d3.select("#c").append("svg").attr("width",1245).attr("height",1100);

frames.forEach((f,i)=>{
  const g = svg.append("g");
  const x = d3.scaleLinear().domain([0,120]).range([f.l,f.r]);
  const y = d3.scaleLinear().domain([f.min,4]).range([f.b,f.t]);
  const yT = f.min===-5 ? yTicks5 : yTicks4;

  g.append("g").selectAll("text").data(titles[i]).join("text")
    .attr("x",f.tc).attr("y",(d,j)=>f.ty[j]).attr("dy","0.35em")
    .attr("text-anchor","middle").attr("font-size",22.4).text(d=>d);

  const ya = g.append("g").attr("transform",`translate(${f.l},0)`)
    .call(d3.axisLeft(y).tickValues(yT).tickFormat(d3.format("d")).tickSize(-(f.r-f.l)).tickPadding(13));
  ya.select(".domain").remove();
  ya.selectAll("line").attr("stroke",d=>d===0?"#bdbdbd":GRID).attr("stroke-width",d=>d===0?1.4:2);
  ya.selectAll("text").attr("font-size",14.5);

  const xg = g.append("g").attr("transform",`translate(0,${f.b})`)
    .call(d3.axisBottom(x).tickValues(xTicks).tickSize(-(f.b-f.t)).tickFormat(""));
  xg.select(".domain").remove();
  xg.selectAll("line").attr("stroke",d=>d===0?"#bfbfbf":GRID).attr("stroke-width",2);

  const data = [];
  zeros[i].forEach(v=>data.push([0,v]));
  clouds[i].forEach((col,k)=>col.forEach(v=>data.push([cloudX[k],v])));
  clouds2[i].forEach((col,k)=>col.forEach(v=>data.push([cloudX2[k],v])));
  points[i].forEach(p=>data.push(p));
  g.append("g").selectAll("circle").data(data).join("circle")
    .attr("cx",d=>x(d[0])).attr("cy",d=>y(d[1])).attr("r",5.5).attr("fill",BLUE);

  const xl = g.append("g").attr("transform",`translate(0,${y(0)})`)
    .call(d3.axisBottom(x).tickValues(xTicks).tickSize(0).tickPadding(15).tickFormat(d3.format("d")));
  xl.select(".domain").remove();
  xl.selectAll("text").attr("font-size",14.5);

  g.append("line").attr("x1",x(trendX[0])).attr("x2",x(trendX[1]))
    .attr("y1",y(trends[i][0])).attr("y2",y(trends[i][1]))
    .attr("stroke","#f00000").attr("stroke-width",3);
});
</script></body></html>
